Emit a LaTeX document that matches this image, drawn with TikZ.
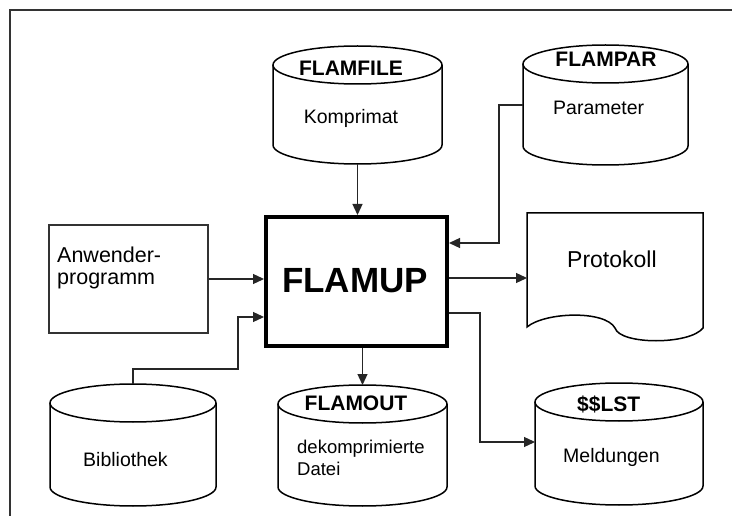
\documentclass[tikz,border=0pt]{standalone}
\usepackage{fontspec}
\setmainfont{Liberation Sans}
\usetikzlibrary{arrows.meta}
\newcommand{\dbcyl}[5]{%
  \node[inner sep=0pt, outer sep=0pt, minimum width={#3-#2}, minimum height={#5-#4+38}, anchor=north west] (#1) at (#2,#4-19) {};
  \fill[white] (#2,#4) -- (#2,#5) arc[start angle=180,end angle=0,x radius={(#3-#2)/2},y radius=19] -- (#3,#4) -- cycle;
  \draw[shapeline] (#2,#4) -- (#2,#5) arc[start angle=180,end angle=0,x radius={(#3-#2)/2},y radius=19] -- (#3,#4);
  \filldraw[shapeline, fill=white] ({(#2+#3)/2},#4) ellipse [x radius={(#3-#2)/2}, y radius=19];
}
\begin{document}
\begin{tikzpicture}[x=1pt,y=-1pt,
  conn/.style={draw=black!85, line width=1.3pt, -{Triangle[length=11pt,width=10pt]}},
  shapeline/.style={draw=black, line width=1.5pt},
  titletext/.style={font=\fontsize{21}{24}\selectfont\bfseries, inner sep=0pt},
  bodytext/.style={font=\fontsize{19.5}{23}\selectfont, inner sep=0pt},
  frameline/.style={draw=black!80, line width=1.5pt}
]
\useasboundingbox (0,0) rectangle (732,516);
\fill[white] (0,0) rectangle (732,516);
\draw[frameline] (10,516) -- (10,10) -- (732,10);

% cylinders
\dbcyl{flamfile}{273}{442}{65}{145}
\dbcyl{flampar}{523}{688}{64}{146}
\dbcyl{biblio}{50}{216}{403}{487}
\dbcyl{flamout}{278}{447}{404}{487}
\dbcyl{lst}{535}{703}{402}{486}

% Anwenderprogramm box
\node[draw=black!80, line width=1.8pt, fill=white, inner sep=0pt, minimum width=159pt, minimum height=108pt] (anw) at (128.5,279) {};

% Protokoll document
\node[inner sep=0pt, outer sep=0pt, minimum width=176pt, minimum height=128pt, anchor=north west] (proto) at (527,213) {};
\filldraw[shapeline, fill=white] (527,213) -- (703,213) -- (703,328)
  .. controls (690,345) and (620,345) .. (615,328)
  .. controls (605,310) and (545,312) .. (527,327) -- cycle;

% main box
\node[draw=black, line width=4pt, fill=white, inner sep=0pt, minimum width=181pt, minimum height=129pt] (main) at (356.5,281.5) {};

% texts
\node[titletext, anchor=base] (tflamfile) at (351,76) {FLAMFILE};
\node[bodytext, anchor=base] (tkomp) at (351,124) {Komprimat};
\node[titletext, anchor=base] (tflampar) at (606,67) {FLAMPAR};
\node[bodytext, anchor=base west] (tparam) at (553,115) {Parameter};
\node[inner sep=0pt, font=\fontsize{23}{26}\selectfont, anchor=base west] (tproto) at (567,268) {Protokoll};
\node[inner sep=0pt, font=\fontsize{21.5}{24}\selectfont, anchor=base west] (tanw1) at (57,262) {Anwender-};
\node[inner sep=0pt, font=\fontsize{21.5}{24}\selectfont, anchor=base west] (tanw2) at (57,284) {programm};
\node[bodytext, anchor=base west] (tbib) at (83,466) {Bibliothek};
\node[titletext, anchor=base] (tflamout) at (356,410) {FLAMOUT};
\node[inner sep=0pt, font=\fontsize{18.5}{22}\selectfont, anchor=base west] (tdek1) at (297,453) {dekomprimierte};
\node[inner sep=0pt, font=\fontsize{18.5}{22}\selectfont, anchor=base west] (tdek2) at (297,475) {Datei};
\node[titletext, anchor=base west] (tlst) at (577,411) {\$\$LST};
\node[bodytext, anchor=base west] (tmeld) at (563,462) {Meldungen};
\node[inner sep=0pt, font=\fontsize{35}{40}\selectfont\bfseries, anchor=base west] (tmain) at (282,292) {FLAMUP};

% connectors
\draw[conn] (flamfile.south) -- (flamfile.south |- main.north);
\draw[conn] (flampar.west) -- ++(-24,0) |- (main.east |- 0,243);
\draw[conn] (anw.east) -- (anw.east -| main.west);
\draw[conn] (biblio.north) |- (238,369) |- (main.west |- 0,317);
\draw[conn] (main.south -| flamout.north) -- (flamout.north);
\draw[conn] (main.east |- 0,278) -- (proto.west |- 0,278);
\draw[conn] (main.east |- 0,313) -- (480,313) |- (lst.west |- 0,442);
\end{tikzpicture}
\end{document}
